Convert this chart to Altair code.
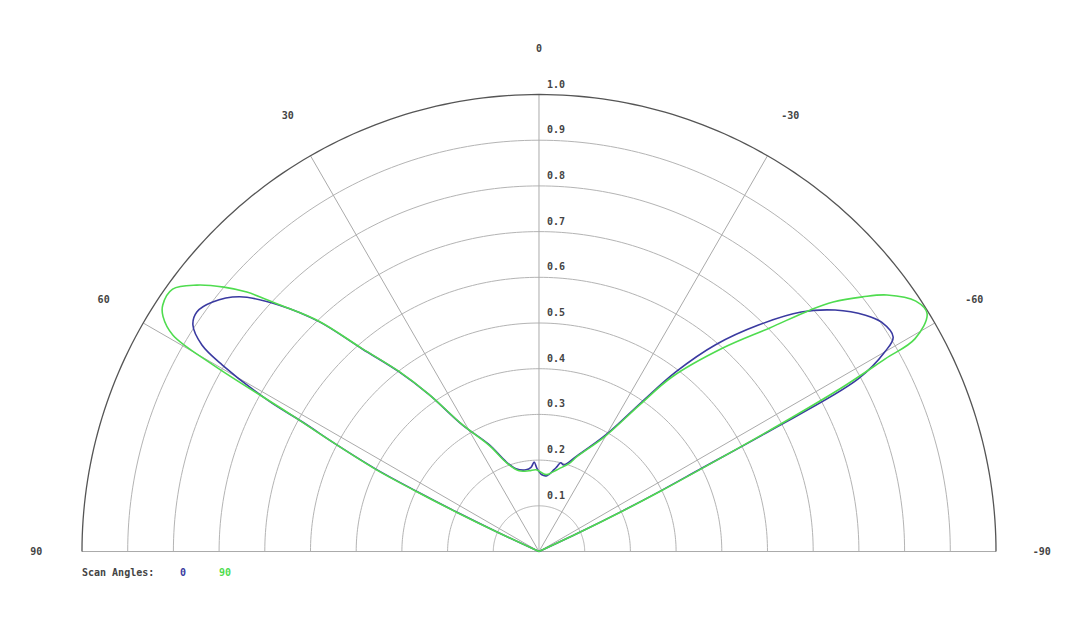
import altair as alt
import pandas as pd
import numpy as np

# ---------------- data ----------------
# angle in degrees (positive = left of the 0 spoke), normalized magnitude
ANG_0 = [65.5, 65.0, 64.4, 63.8, 63.2, 62.2, 61.3, 60.9, 59.5, 58.5, 56.8, 55.0,
         52.6, 49.6, 46.5, 43.7, 41.1, 37.9, 35.0, 31.2, 25.0, 20.1, 15.5, 9.0, 5.4,
         3.1, 1.4, -2.2, -6.0, -10.4, -12.0, -13.7, -16.0, -21.3, -29.8, -34.5, -37.3,
         -40.5, -44.1, -47.6, -50.8, -54.1, -56.2, -58.8, -60.0, -61.6, -62.4, -62.9,
         -63.5, -64.1, -64.7, -65.2]
R_0 = [0.0, 0.10, 0.20, 0.30, 0.40, 0.50, 0.59, 0.674, 0.804, 0.865, 0.905, 0.914,
       0.899, 0.86, 0.783, 0.695, 0.588, 0.498, 0.419, 0.324, 0.258, 0.209, 0.188, 0.181, 0.185,
       0.196, 0.182, 0.168, 0.167, 0.182, 0.19, 0.200, 0.197, 0.223, 0.294, 0.397, 0.494,
       0.595, 0.69, 0.777, 0.836, 0.882, 0.902, 0.906, 0.874, 0.794, 0.566, 0.40,
       0.30, 0.20, 0.10, 0.0]

ANG_90 = [65.7, 65.1, 64.5, 63.9, 63.3, 62.0, 61.1, 60.2, 59.4, 58.0, 56.8, 54.4, 52.1,
          50.0, 48.4, 46.5, 43.7, 41.1, 37.9, 35.0, 31.2, 25.0, 20.1, 13.9, 7.0, 2.0, -5.2,
          -10.0, -13.5, -18.8, -22.0, -29.8, -34.5, -37.3, -42.1, -45.9, -48.3, -49.7,
          -51.8, -53.6, -56.4, -58.5, -60.5, -60.9, -61.6, -62.3, -62.9, -63.6, -64.2,
          -64.8, -65.3]
R_90 = [0.0, 0.10, 0.20, 0.30, 0.40, 0.52, 0.62, 0.822, 0.931, 0.97, 0.984, 0.986, 0.949,
        0.90, 0.855, 0.785, 0.697, 0.59, 0.50, 0.42, 0.325, 0.255, 0.207, 0.182, 0.178, 0.179, 0.169,
        0.177, 0.186, 0.203, 0.225, 0.29, 0.39, 0.48, 0.600, 0.703, 0.794, 0.844,
        0.901, 0.946, 0.990, 0.996, 0.945, 0.867, 0.75, 0.57, 0.42, 0.30, 0.20,
        0.10, 0.0]

SCAN_NAMES = ["0", "90"]
SCAN_COLORS = ["#3a3aa0", "#4fdc4f"]

RINGS = [0.1, 0.2, 0.3, 0.4, 0.5, 0.6, 0.7, 0.8, 0.9, 1.0]
RING_LABELS = ["0.1", "0.2", "0.3", "0.4", "0.5", "0.6", "0.7", "0.8", "0.9", "1.0"]
SPOKES = [-60, -30, 0, 30, 60]
ANGLE_TICKS = [0, 30, 60, 90, -30, -60, -90]
ANGLE_TICK_LABELS = ["0", "30", "60", "90", "-30", "-60", "-90"]
LEGEND_TITLE = "Scan Angles:"

# ---------------- tables ----------------
series = pd.concat([
    pd.DataFrame({"angle": ANG_0, "r": R_0, "scan": SCAN_NAMES[0], "idx": range(len(ANG_0))}),
    pd.DataFrame({"angle": ANG_90, "r": R_90, "scan": SCAN_NAMES[1], "idx": range(len(ANG_90))}),
])

ring_angles = np.arange(-90, 91, 1)
rings = pd.DataFrame([{"ring": rv, "angle": a, "r": rv} for rv in RINGS for a in ring_angles])
spokes = pd.DataFrame({"angle": SPOKES, "r": 1.0})
ticks = pd.DataFrame({"angle": ANGLE_TICKS, "label": ANGLE_TICK_LABELS, "r": 1.1})
rlabels = pd.DataFrame({"angle": 0, "r": RINGS, "label": RING_LABELS})

XDOM = [-1.1619, 1.1663]
YDOM = [-0.1586, 1.1893]
xs = alt.Scale(domain=XDOM, nice=False, zero=False)
ys = alt.Scale(domain=YDOM, nice=False, zero=False)

PX = "-datum.r*sin(datum.angle*PI/180)"
PY = "datum.r*cos(datum.angle*PI/180)"
FONT = "DejaVu Sans Mono"


def polar(chart):
    return chart.transform_calculate(px=PX, py=PY)


X = alt.X("px:Q", scale=xs, axis=None)
Y = alt.Y("py:Q", scale=ys, axis=None)

inner_rings = polar(alt.Chart(rings).transform_filter("datum.ring < 1")).mark_line(
    color="#b4b4b4", strokeWidth=1
).encode(x=X, y=Y, detail="ring:N", order="angle:Q")

outer_ring = polar(alt.Chart(rings).transform_filter("datum.ring >= 1")).mark_line(
    color="#555555", strokeWidth=1.3
).encode(x=X, y=Y, order="angle:Q")

spoke_rules = polar(alt.Chart(spokes)).transform_calculate(zero="0").mark_rule(
    color="#aaaaaa", strokeWidth=1
).encode(x=X, y=Y, x2="zero:Q", y2="zero:Q")

base_df = pd.DataFrame({"angle": [90], "r": [1.0], "a2": [-90]})
baseline = polar(alt.Chart(base_df)).transform_calculate(
    px2="-datum.r*sin(datum.a2*PI/180)", py2="datum.r*cos(datum.a2*PI/180)"
).mark_rule(color="#aaaaaa", strokeWidth=1).encode(x=X, y=Y, x2="px2:Q", y2="py2:Q")

tick_text = polar(alt.Chart(ticks)).mark_text(
    font=FONT, fontSize=10, fontWeight="bold", color="#444444", align="center", baseline="middle"
).encode(x=X, y=Y, text="label:N")

rlabel_text = polar(alt.Chart(rlabels)).mark_text(
    font=FONT, fontSize=10, fontWeight="bold", color="#444444", align="left",
    baseline="middle", dx=8, dy=-10
).encode(x=X, y=Y, text="label:N")

lines = polar(alt.Chart(series)).mark_line(
    strokeWidth=1.6, interpolate="catmull-rom"
).encode(
    x=X, y=Y,
    color=alt.Color("scan:N", scale=alt.Scale(domain=SCAN_NAMES, range=SCAN_COLORS), legend=None),
    order="idx:Q",
    detail="scan:N",
)

leg_title = alt.Chart(pd.DataFrame({"t": [LEGEND_TITLE]})).mark_text(
    font=FONT, fontSize=10, fontWeight="bold", color="#444444", align="left", baseline="middle"
).encode(x=alt.value(74), y=alt.value(565), text="t:N")

leg_items = alt.Chart(pd.DataFrame({"scan": SCAN_NAMES, "pos": [175, 217]})).mark_text(
    font=FONT, fontSize=10, fontWeight="bold", align="center", baseline="middle"
).encode(
    x=alt.X("pos:Q", scale=alt.Scale(domain=[0, 1064], range=[0, 1064]), axis=None),
    y=alt.value(565),
    text="scan:N",
    color=alt.Color("scan:N", scale=alt.Scale(domain=SCAN_NAMES, range=SCAN_COLORS), legend=None),
)

chart = alt.layer(
    inner_rings, spoke_rules, baseline, outer_ring, lines, tick_text, rlabel_text, leg_title, leg_items
).resolve_scale(x="independent").properties(
    width=1064, height=616, padding=0, background="white"
).configure_view(strokeWidth=0)

chart.save("out.html", embed_options={"renderer": "svg", "actions": False})
